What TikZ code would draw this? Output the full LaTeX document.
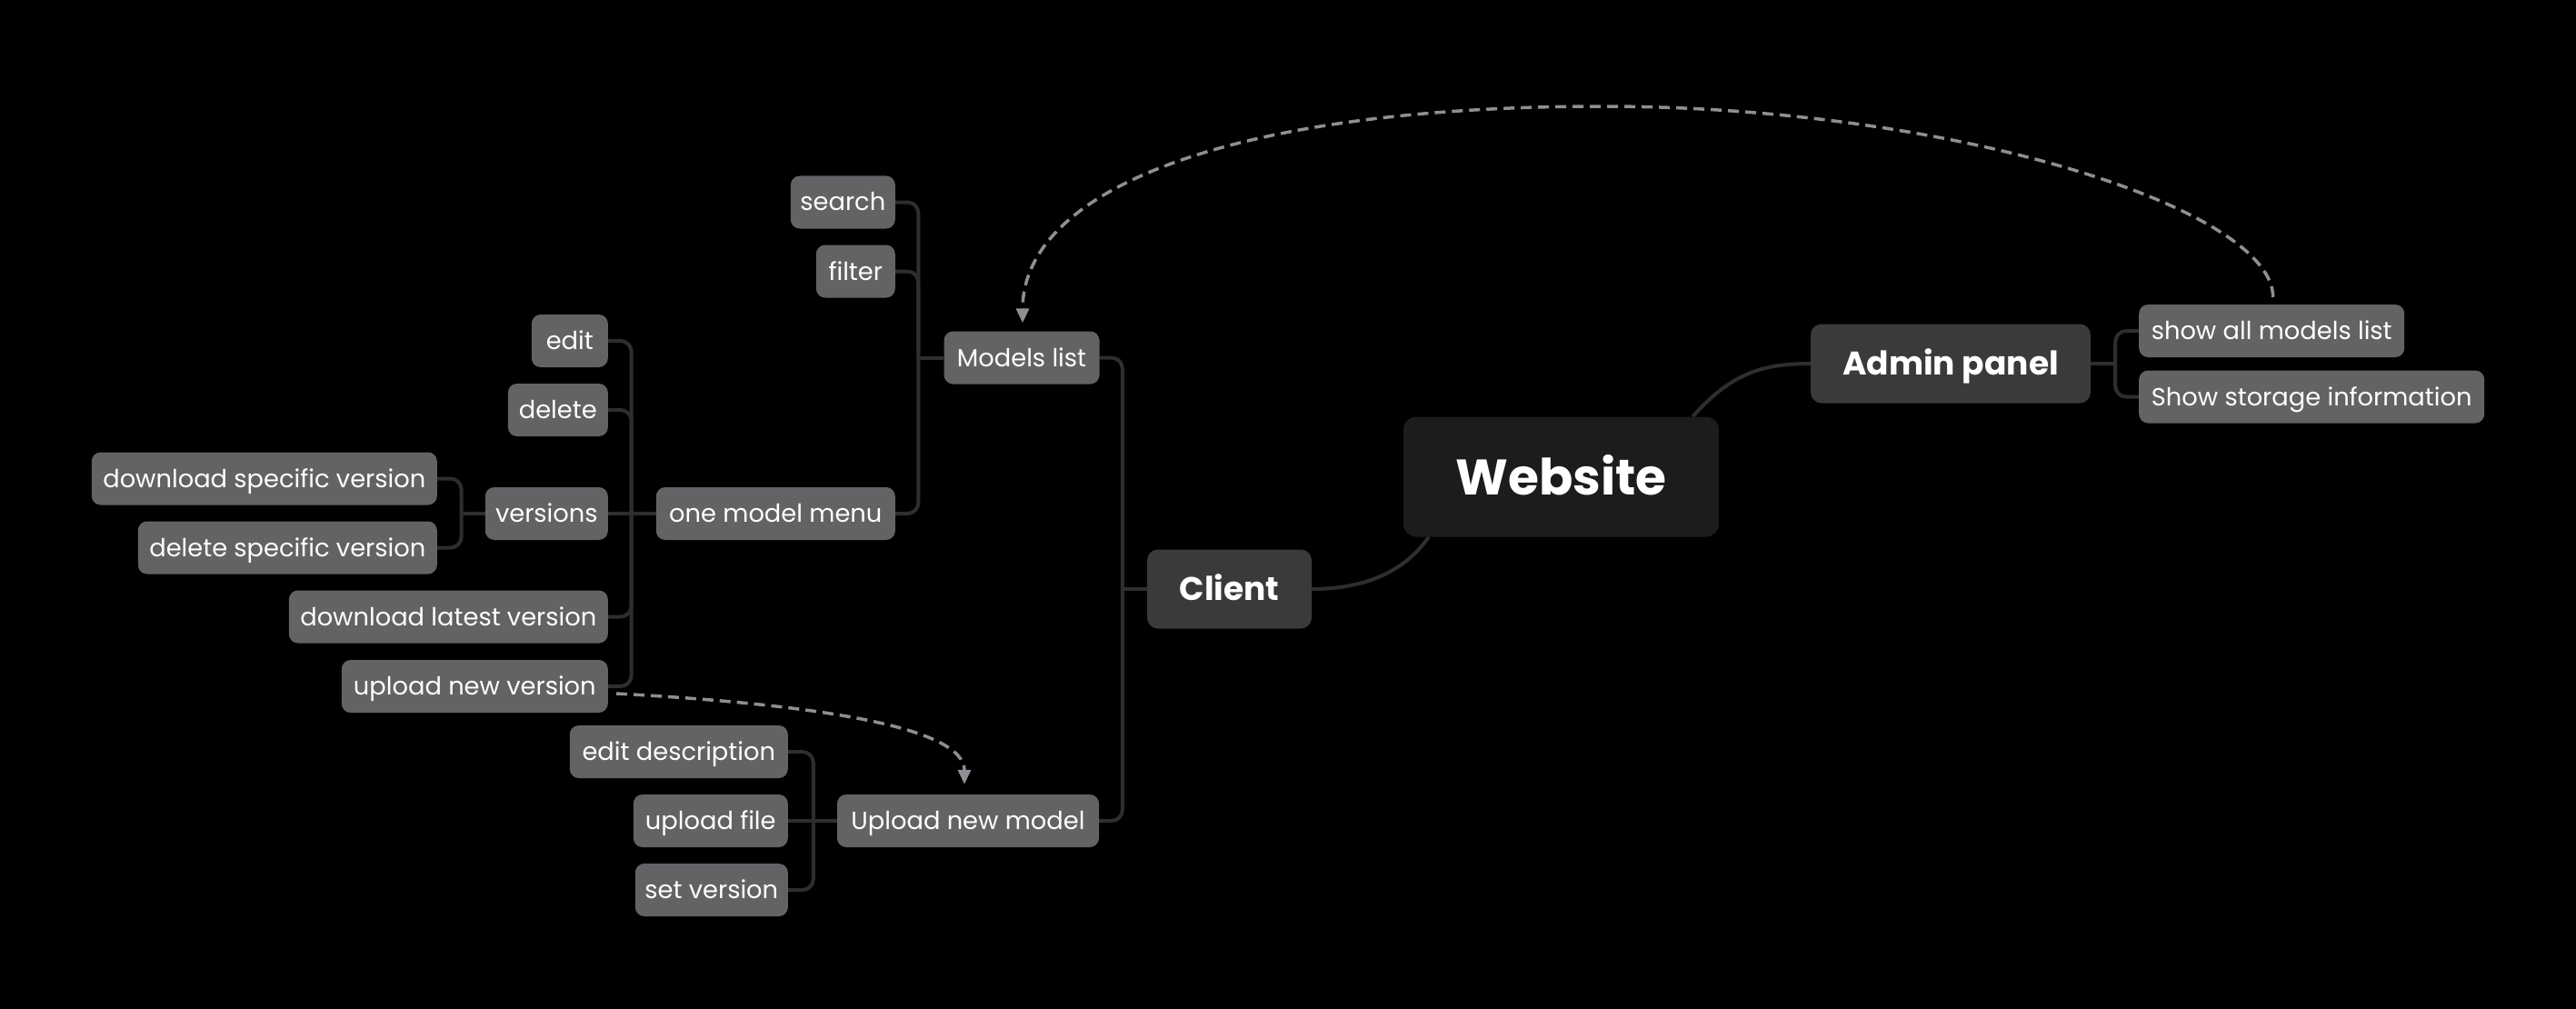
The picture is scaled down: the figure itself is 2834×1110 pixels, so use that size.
\documentclass[tikz,border=0pt]{standalone}
\usepackage{fontspec}
\setmainfont{Poppins}
\usetikzlibrary{calc,backgrounds,arrows.meta}
\definecolor{bgc}{HTML}{000000}
\definecolor{rootc}{HTML}{1C1C1E}
\definecolor{midc}{HTML}{3A3A3C}
\definecolor{leafc}{HTML}{636366}
\definecolor{linec}{HTML}{2E2E30}
\definecolor{dashc}{HTML}{8E8E93}
\tikzset{
  leaf/.style={fill=leafc, rounded corners=10pt, text=white, inner sep=0pt,
    minimum height=58pt, text height=20pt, text depth=1pt,
    font=\fontsize{27.3}{30}\selectfont},
  mid/.style={fill=midc, rounded corners=12pt, text=white, inner sep=0pt,
    minimum height=87pt, text height=25.5pt, text depth=0pt,
    font=\bfseries\fontsize{36}{40}\selectfont},
  root/.style={fill=rootc, rounded corners=14pt, text=white, inner sep=0pt,
    minimum height=132pt, minimum width=347pt, text height=39pt, text depth=0pt,
    font=\bfseries\fontsize{55}{60}\selectfont},
  conn/.style={draw=linec, line width=4pt},
  bconn/.style={draw=linec, line width=4pt, rounded corners=12pt},
  dashlink/.style={draw=dashc, line width=3.5pt, dash pattern=on 12pt off 7pt,
    -{Triangle[length=16pt,width=14pt]}}
}
\begin{document}
\begin{tikzpicture}[x=1pt,y=-1pt]
\useasboundingbox (0,0) rectangle (2834,1110);
% nodes
\node[root] (web) at (1717.5,524.5) {Website};
\node[mid, minimum width=308pt] (admin) at (2146,400) {Admin panel};
\node[mid, minimum width=181pt] (client) at (1352.5,648) {Client};
\node[leaf, anchor=west, minimum width=292pt] (showall) at (2353,364) {show all models list};
\node[leaf, anchor=west, minimum width=380pt] (storage) at (2353,436.5) {Show storage information};
\node[leaf, minimum width=171pt] (models) at (1124,393.5) {Models list};
\node[leaf, anchor=east, minimum width=115pt] (search) at (985,222.5) {search};
\node[leaf, anchor=east, minimum width=87pt] (filter) at (985,298.5) {filter};
\node[leaf, anchor=east, minimum width=263pt] (onemenu) at (985,565) {one model menu};
\node[leaf, anchor=east, minimum width=84pt] (edit) at (669,375) {edit};
\node[leaf, anchor=east, minimum width=110pt] (delete) at (669,451) {delete};
\node[leaf, anchor=east, minimum width=135pt] (versions) at (669,565) {versions};
\node[leaf, anchor=east, minimum width=351pt] (dllatest) at (669,678.5) {download latest version};
\node[leaf, anchor=east, minimum width=293pt] (upnew) at (669,755) {upload new version};
\node[leaf, anchor=east, minimum width=380pt] (dlspec) at (481,526.5) {download specific version};
\node[leaf, anchor=east, minimum width=329pt] (delspec) at (481,602.5) {delete specific version};
\node[leaf, minimum width=288pt] (upmodel) at (1065,903) {Upload new model};
\node[leaf, anchor=east, minimum width=240pt] (editdesc) at (867,827) {edit description};
\node[leaf, anchor=east, minimum width=170pt] (upfile) at (867,903) {upload file};
\node[leaf, anchor=east, minimum width=168pt] (setver) at (867,979) {set version};
% connectors
\begin{pgfonlayer}{background}
\fill[bgc] (0,0) rectangle (2834,1110);
% main curves
\draw[conn] (client.east) .. controls (1520,648) and (1555,615) .. ($(web.south west)+(28,0)$);
\draw[conn] ($(web.north east)+(-29,0)$) .. controls (1905,410) and (1940,400) .. (admin.west);
% admin children
\draw[conn] (admin.east) -- ++(27,0);
\draw[bconn] ($(admin.east)+(27,0)$) |- (showall.west);
\draw[bconn] ($(admin.east)+(27,0)$) |- (storage.west);
% client children
\draw[conn] (client.west) -- ++(-27,0);
\draw[bconn] ($(client.west)+(-27,0)$) |- (models.east);
\draw[bconn] ($(client.west)+(-27,0)$) |- (upmodel.east);
% models list children
\draw[conn] (models.west) -- ++(-28,0);
\draw[bconn] ($(models.west)+(-28,0)$) |- (search.east);
\draw[bconn] ($(models.west)+(-28,0)$) |- (filter.east);
\draw[bconn] ($(models.west)+(-28,0)$) |- (onemenu.east);
% one model menu children
\draw[conn] (onemenu.west) -- ++(-27,0);
\draw[bconn] ($(onemenu.west)+(-27,0)$) |- (edit.east);
\draw[bconn] ($(onemenu.west)+(-27,0)$) |- (delete.east);
\draw[conn] ($(onemenu.west)+(-27,0)$) -- (versions.east);
\draw[bconn] ($(onemenu.west)+(-27,0)$) |- (dllatest.east);
\draw[bconn] ($(onemenu.west)+(-27,0)$) |- (upnew.east);
% versions children
\draw[conn] (versions.west) -- ++(-26,0);
\draw[bconn] ($(versions.west)+(-26,0)$) |- (dlspec.east);
\draw[bconn] ($(versions.west)+(-26,0)$) |- (delspec.east);
% upload new model children
\draw[conn] (upmodel.west) -- ++(-26,0);
\draw[bconn] ($(upmodel.west)+(-26,0)$) |- (editdesc.east);
\draw[conn] ($(upmodel.west)+(-26,0)$) -- (upfile.east);
\draw[bconn] ($(upmodel.west)+(-26,0)$) |- (setver.east);
\end{pgfonlayer}
% dashed links
\coordinate (peak) at (1763,117);
\draw[dashlink] ($(showall.north)+(1.5,-8)$) .. controls (2500,230) and (2150,117) .. (peak)
   .. controls (1350,117) and (1125,210) .. ($(models.north)+(1,-9)$);
\draw[dashlink] ($(upnew.east)+(9,8)$) .. controls (900,775) and (1061,800) .. ($(upmodel.north)+(-4,-11)$);
\end{tikzpicture}
\end{document}
